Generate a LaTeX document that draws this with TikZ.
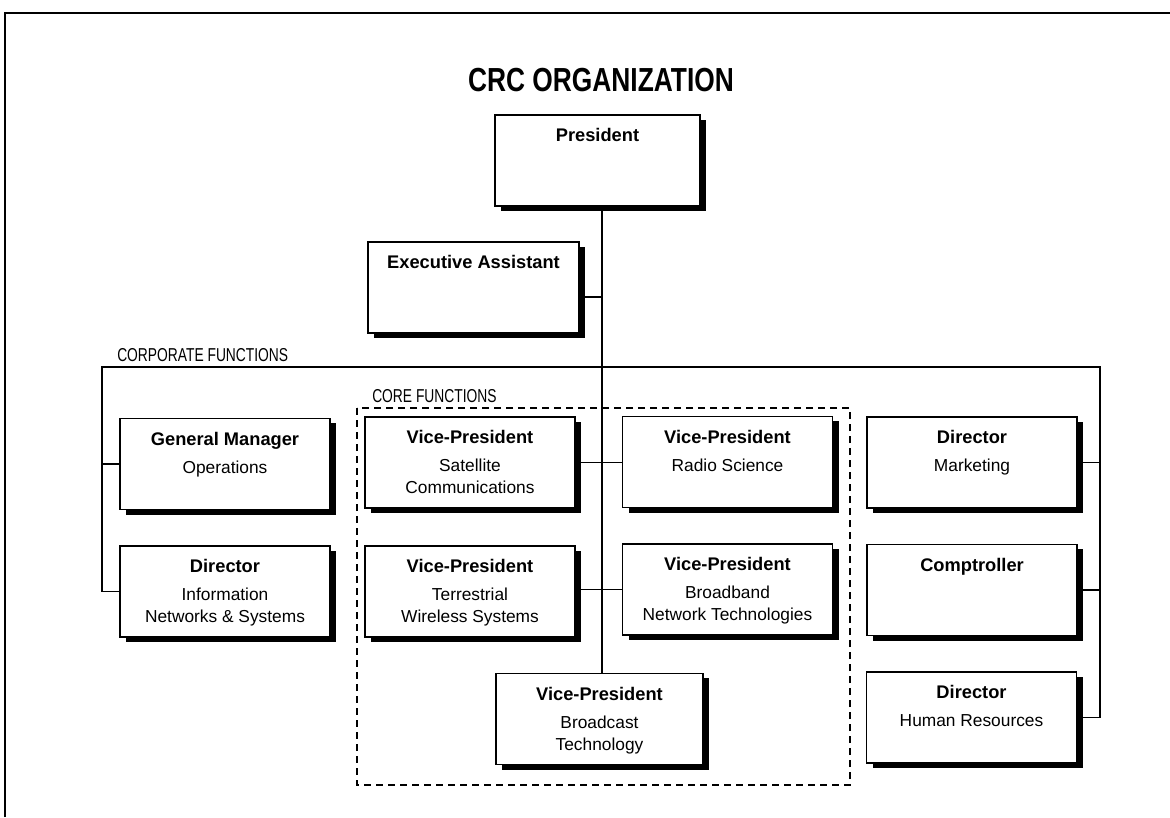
\documentclass[tikz,border=0pt]{standalone}
\usepackage{fontspec}
\setmainfont{Liberation Sans}
\newfontfamily\titlefont{Liberation Sans}[FakeStretch=0.79]
\newfontfamily\labelfont{Liberation Sans}[FakeStretch=0.74]
\usetikzlibrary{shadows}
\newcommand\hd[1]{{\fontsize{13.7}{16.5}\selectfont\bfseries #1}}
\newcommand\orgbox[4]{%
  \node[box, minimum width=#3] (#1) at (#2) {};
  \node[txt] (#1-t) at ([yshift=-10.5pt]#1.north) {#4};}
\begin{document}
\begin{tikzpicture}[x=0.75pt,y=-0.75pt,
  box/.style={draw=black, line width=1.1pt, fill=white, minimum height=68.5pt,
    inner sep=0pt, drop shadow={shadow xshift=4.5pt, shadow yshift=-3.75pt, fill=black, opacity=1}},
  txt/.style={anchor=north, align=center, inner sep=0pt, font=\fontsize{13}{16.5}\selectfont},
  conn/.style={line width=1.1pt},
  lbl/.style={anchor=base west, inner sep=0pt, font=\labelfont\fontsize{14}{16}\selectfont},
  coreframe/.style={line width=1.1pt, dash pattern=on 5.5pt off 3.5pt}]
\useasboundingbox (0,0) rectangle (1170,817);
% frame
\draw[conn] (5,817) -- (5,13) -- (1170,13);
% title
\node[anchor=base, inner sep=0pt, font=\titlefont\bfseries\fontsize{25}{30}\selectfont] (title) at (601,91) {CRC ORGANIZATION};
% boxes
\orgbox{pres}{597.5,160.5}{153.75pt}{\hd{President}}
\orgbox{exec}{473.5,287.5}{158.25pt}{\hd{Executive Assistant}}
\orgbox{gm}{225,464}{157.5pt}{\hd{General Manager}\\[4.5pt]Operations}
\orgbox{info}{225,591.5}{157.5pt}{\hd{Director}\\[4.5pt]Information\\Networks \& Systems}
\orgbox{sat}{470,462.5}{157.5pt}{\hd{Vice-President}\\[4.5pt]Satellite\\Communications}
\orgbox{terr}{470,591.5}{157.5pt}{\hd{Vice-President}\\[4.5pt]Terrestrial\\Wireless Systems}
\orgbox{radio}{727.5,462}{157.5pt}{\hd{Vice-President}\\[4.5pt]Radio Science}
\orgbox{bb}{727.5,589.5}{157.5pt}{\hd{Vice-President}\\[4.5pt]Broadband\\Network Technologies}
\orgbox{bc}{599.5,719}{155.25pt}{\hd{Vice-President}\\[4.5pt]Broadcast\\Technology}
\orgbox{mkt}{972,462.5}{157.5pt}{\hd{Director}\\[4.5pt]Marketing}
\orgbox{comp}{972,590}{157.5pt}{\hd{Comptroller}}
\orgbox{hr}{971.5,717.5}{157.5pt}{\hd{Director}\\[4.5pt]Human Resources}
% labels
\node[lbl] (corpL) at (117,361) {CORPORATE FUNCTIONS};
\node[lbl] (coreL) at (372,402) {CORE FUNCTIONS};
% core functions frame
\draw[coreframe] (357,408) rectangle (850,785);
% connectors
\coordinate (tx) at (602,0);
\coordinate (cl) at (102,367);
\coordinate (cr) at (1100,367);
\draw[conn] (pres.south -| tx) -- (bc.north -| tx);
\path ([yshift=-7pt]exec.east) coordinate (ea);
\draw[conn] (ea) -- (ea -| tx);
\draw[conn] (sat.east) -- (sat.east -| radio.west);
\draw[conn] (bb.west -| terr.east) -- (bb.west);
\draw[conn] (info.west) -| (cl) -- (cr) |- (hr.east);
\draw[conn] (gm.west -| cl) -- (gm.west);
\draw[conn] (mkt.east) -- (mkt.east -| cr);
\draw[conn] (comp.east) -- (comp.east -| cr);
\end{tikzpicture}
\end{document}
